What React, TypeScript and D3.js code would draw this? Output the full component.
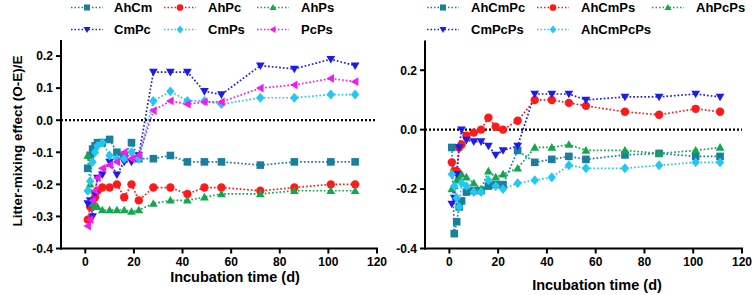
import React from "react";
import * as d3 from "d3";

// ---------- data ----------
const days = [1, 2, 3, 4, 5, 7, 10, 13, 16, 19, 22, 28, 35, 42, 49, 56, 72, 86, 101, 111];

// left panel (two-species mixtures)
const AhCm = [-0.15, -0.11, -0.09, -0.08, -0.07, -0.07, -0.06, -0.1, -0.11, -0.07, -0.12, -0.12, -0.11, -0.13, -0.13, -0.13, -0.14, -0.13, -0.13, -0.13];
const AhPc = [-0.31, -0.27, -0.26, -0.24, -0.22, -0.21, -0.21, -0.2, -0.24, -0.2, -0.25, -0.21, -0.21, -0.23, -0.21, -0.21, -0.22, -0.21, -0.2, -0.2];
const AhPs = [-0.11, -0.2, -0.26, -0.27, -0.27, -0.28, -0.28, -0.28, -0.28, -0.285, -0.28, -0.26, -0.25, -0.25, -0.24, -0.23, -0.23, -0.22, -0.22, -0.22];
const CmPc = [-0.26, -0.25, -0.3, -0.23, -0.18, -0.17, -0.13, -0.17, -0.13, -0.13, -0.11, 0.15, 0.15, 0.15, 0.09, 0.08, 0.17, 0.16, 0.19, 0.17];
const CmPs = [-0.22, -0.19, -0.13, -0.1, -0.08, -0.07, -0.11, -0.12, -0.12, -0.1, -0.12, 0.06, 0.09, 0.06, 0.06, 0.05, 0.07, 0.07, 0.08, 0.08];
const PcPs = [-0.33, -0.31, -0.25, -0.22, -0.18, -0.15, -0.14, -0.13, -0.1, -0.12, -0.11, 0.03, 0.06, 0.05, 0.057, 0.057, 0.1, 0.11, 0.13, 0.12];

// right panel (three/four-species mixtures)
const AhCmPc = [-0.06, -0.35, -0.31, -0.26, -0.24, -0.21, -0.205, -0.205, -0.19, -0.185, -0.185, -0.07, -0.11, -0.1, -0.09, -0.1, -0.085, -0.08, -0.09, -0.09];
const AhCmPs = [-0.11, -0.14, -0.14, -0.06, -0.05, -0.02, -0.01, 0.0, 0.04, 0.01, 0.0, 0.03, 0.1, 0.1, 0.09, 0.08, 0.06, 0.05, 0.07, 0.06];
const AhPcPs = [-0.2, -0.19, -0.17, -0.16, -0.15, -0.16, -0.18, -0.2, -0.14, -0.16, -0.15, -0.13, -0.06, -0.06, -0.05, -0.07, -0.07, -0.08, -0.07, -0.06];
const CmPcPs = [-0.25, -0.23, -0.15, -0.06, 0.0, -0.035, -0.04, -0.04, -0.055, -0.085, -0.07, -0.055, 0.12, 0.12, 0.12, 0.1, 0.11, 0.11, 0.12, 0.11];
const AhCmPcPs = [-0.15, -0.19, -0.23, -0.26, -0.18, -0.19, -0.21, -0.21, -0.17, -0.19, -0.2, -0.18, -0.17, -0.16, -0.12, -0.13, -0.13, -0.12, -0.11, -0.11];

const xTicks = [0, 20, 40, 60, 80, 100, 120];
const yTicksLeft = [0.2, 0.1, 0.0, -0.1, -0.2, -0.3, -0.4];
const yTicksRight = [0.2, 0.0, -0.2, -0.4];

// ---------- styles ----------
const C = {
  teal: "#1a7e9e",
  red: "#ff1a1a",
  green: "#12a84f",
  blue: "#1c1cf0",
  cyan: "#22c8f2",
  magenta: "#f21cf2",
};

type Shape = "square" | "circle" | "up" | "down" | "diamond" | "left";
interface Series { name: string; values: number[]; color: string; shape: Shape; }

const leftSeries: Series[] = [
  { name: "AhCm", values: AhCm, color: C.teal, shape: "square" },
  { name: "AhPc", values: AhPc, color: C.red, shape: "circle" },
  { name: "AhPs", values: AhPs, color: C.green, shape: "up" },
  { name: "CmPc", values: CmPc, color: C.blue, shape: "down" },
  { name: "CmPs", values: CmPs, color: C.cyan, shape: "diamond" },
  { name: "PcPs", values: PcPs, color: C.magenta, shape: "left" },
];
const rightSeries: Series[] = [
  { name: "AhCmPc", values: AhCmPc, color: C.teal, shape: "square" },
  { name: "AhCmPs", values: AhCmPs, color: C.red, shape: "circle" },
  { name: "AhPcPs", values: AhPcPs, color: C.green, shape: "up" },
  { name: "CmPcPs", values: CmPcPs, color: C.blue, shape: "down" },
  { name: "AhCmPcPs", values: AhCmPcPs, color: C.cyan, shape: "diamond" },
];

const FONT = "'Liberation Sans', Arial, sans-serif";

function shapePath(shape: Shape, r: number): string {
  switch (shape) {
    case "square":
      return `M${-r},${-r}H${r}V${r}H${-r}Z`;
    case "circle":
      return `M${r},0A${r},${r} 0 1,1 ${-r},0A${r},${r} 0 1,1 ${r},0Z`;
    case "up":
      return `M0,${-r * 1.15}L${r * 1.15},${r * 0.85}L${-r * 1.15},${r * 0.85}Z`;
    case "down":
      return `M0,${r * 1.15}L${r * 1.15},${-r * 0.85}L${-r * 1.15},${-r * 0.85}Z`;
    case "diamond":
      return `M0,${-r * 1.3}L${r * 1.1},0L0,${r * 1.3}L${-r * 1.1},0Z`;
    case "left":
      return `M${-r * 1.15},0L${r * 0.85},${-r * 1.15}L${r * 0.85},${r * 1.15}Z`;
  }
}

const Marker = ({ x, y, s, k = 1 }: { x: number; y: number; s: Series; k?: number }) => (
  <path d={shapePath(s.shape, (s.shape === "circle" ? 4.2 : 3.8) * k)} transform={`translate(${x},${y})`} fill={s.color} />
);

interface PanelProps {
  series: Series[];
  x0: number; x1: number; yTop: number; yBot: number;
  yDomain: [number, number];
  yTicks: number[];
  titleX: number; titleY: number;
  legendCols: number[]; legendTextCols: number[];
}

function Panel(p: PanelProps) {
  const x = d3.scaleLinear().domain([-10, 120]).range([p.x0, p.x1]);
  const y = d3.scaleLinear().domain(p.yDomain).range([p.yBot, p.yTop]);
  const line = d3.line<number>().x((_, i) => x(days[i])).y((v) => y(v));
  const rows = [7.5, 29.5];
  return (
    <g>
      {/* zero line */}
      <line x1={x(-10)} x2={x(120)} y1={y(0)} y2={y(0)} stroke="#000" strokeWidth={2.2} strokeDasharray="2,2" />
      {/* series lines */}
      {p.series.map((s) => (
        <path key={s.name + "l"} d={line(s.values) || ""} fill="none" stroke={s.color} strokeWidth={1.7} strokeDasharray="1.7,2" />
      ))}
      {p.series.map((s) => (
        <g key={s.name + "m"}>
          {s.values.map((v, i) => (
            <Marker key={i} x={x(days[i])} y={y(v)} s={s} />
          ))}
        </g>
      ))}
      {/* axes */}
      <line x1={p.x0} x2={p.x0} y1={p.yTop} y2={p.yBot + 1} stroke="#000" strokeWidth={2} />
      <line x1={p.x0 - 1} x2={p.x1 + 1} y1={p.yBot} y2={p.yBot} stroke="#000" strokeWidth={2} />
      {p.yTicks.map((t) => (
        <g key={"y" + t}>
          <line x1={p.x0 - 5} x2={p.x0} y1={y(t)} y2={y(t)} stroke="#000" strokeWidth={2} />
          <text x={p.x0 - 8} y={y(t)} dy="0.36em" textAnchor="end" fontFamily={FONT} fontWeight="bold" fontSize={12} fill="#000">
            {d3.format(".1f")(t).replace("−", "-")}
          </text>
        </g>
      ))}
      {xTicks.map((t) => (
        <g key={"x" + t}>
          <line x1={x(t)} x2={x(t)} y1={p.yBot} y2={p.yBot + 5} stroke="#000" strokeWidth={2} />
          <text x={x(t)} y={p.yBot + 17} textAnchor="middle" fontFamily={FONT} fontWeight="bold" fontSize={12} fill="#000">
            {t}
          </text>
        </g>
      ))}
      <text x={p.titleX} y={p.titleY} textAnchor="middle" fontFamily={FONT} fontWeight="bold" fontSize={14.5} fill="#000">
        Incubation time (d)
      </text>
      {/* legend */}
      {p.series.map((s, i) => {
        const col = i % 3;
        const row = Math.floor(i / 3);
        const lx = p.legendCols[col];
        const ly = rows[row];
        return (
          <g key={s.name + "lg"}>
            <line x1={lx} x2={lx + 32} y1={ly} y2={ly} stroke={s.color} strokeWidth={1.5} strokeDasharray="1.5,2" />
            <Marker x={lx + 16} y={ly} s={s} k={0.8} />
            <text x={p.legendTextCols[col]} y={ly} dy="0.36em" fontFamily={FONT} fontWeight="bold" fontSize={13} fill="#000">
              {s.name}
            </text>
          </g>
        );
      })}
    </g>
  );
}

export default function App() {
  return (
    <svg width={754} height={295} style={{ position: "absolute", left: 0, top: 0, background: "#fff" }}>
      <rect width={754} height={295} fill="#fff" />
      <Panel
        series={leftSeries}
        x0={61} x1={377} yTop={40} yBot={248.5}
        yDomain={[-0.4, 0.25]}
        yTicks={yTicksLeft}
        titleX={235} titleY={282}
        legendCols={[71, 164, 257]}
        legendTextCols={[114, 208, 301]}
      />
      <Panel
        series={rightSeries}
        x0={425} x1={742} yTop={40.5} yBot={248.5}
        yDomain={[-0.4, 0.3]}
        yTicks={yTicksRight}
        titleX={597} titleY={290}
        legendCols={[427, 537, 652]}
        legendTextCols={[471, 581, 696]}
      />
      <text transform="translate(17,141) rotate(-90)" textAnchor="middle" dominantBaseline="central" fontFamily={FONT} fontWeight="bold" fontSize={13.5} fill="#000">
        Litter-mixing effect (O-E)/E
      </text>
    </svg>
  );
}
